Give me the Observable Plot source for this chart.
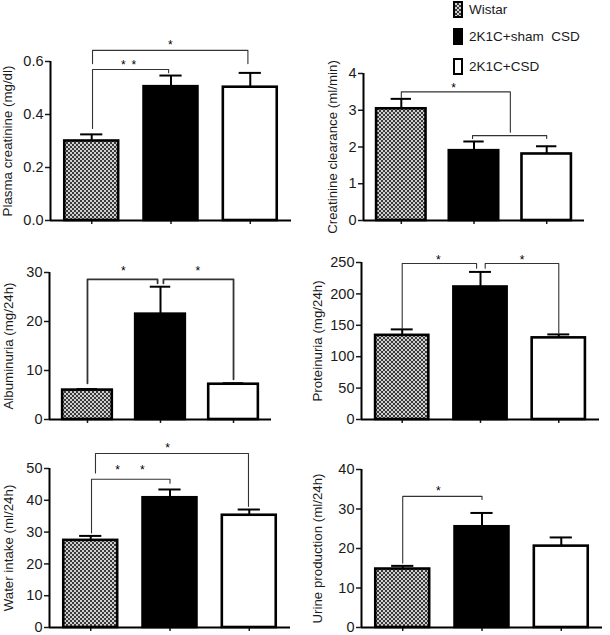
<!DOCTYPE html>
<html><head><meta charset="utf-8">
<script src="https://cdn.jsdelivr.net/npm/d3@7"></script>
<script src="https://cdn.jsdelivr.net/npm/@observablehq/plot@0.6"></script>
<style>
body{margin:0;background:#fff;font-family:"Liberation Sans",Arial,sans-serif;color:#1a1a1a;}
#root{position:relative;width:610px;height:635px;overflow:hidden;background:#fff;}
.panel{position:absolute;}
.leg{position:absolute;left:453px;display:flex;align-items:center;font-size:13.5px;}
.sw{box-sizing:border-box;border:2px solid #000;width:10px;height:17px;margin-right:6px;}
</style></head><body>
<svg width="0" height="0" style="position:absolute"><defs>
<pattern id="checker" width="4" height="4" patternUnits="userSpaceOnUse">
<rect width="4" height="4" fill="#cfcfcf"/><rect width="2" height="2" fill="#3a3a3a"/><rect x="2" y="2" width="2" height="2" fill="#3a3a3a"/>
</pattern></defs></svg>
<div id="root"></div>
<script>
// ---------- data ----------
const groups = ["Wistar", "2K1C+sham  CSD", "2K1C+CSD"];
const yTitles = ["Plasma creatinine (mg/dl)", "Creatinine clearance (ml/min)", "Albuminuria (mg/24h)",
                 "Proteinuria (mg/24h)", "Water intake (ml/24h)", "Urine production (ml/24h)"];

const plasmaCreatinine    = [0.30, 0.505, 0.503];
const plasmaCreatinineSem = [0.025, 0.042, 0.054];
const creatClearance      = [3.04, 1.90, 1.81];
const creatClearanceSem   = [0.27, 0.25, 0.21];
const albuminuria         = [6.0, 21.5, 7.2];
const albuminuriaSem      = [0.2, 5.6, 0.2];
const proteinuria         = [134, 211, 130];
const proteinuriaSem      = [9.5, 24, 5.5];
const waterIntake         = [27.4, 40.8, 35.3];
const waterIntakeSem      = [1.4, 2.6, 1.8];
const urineProduction     = [14.8, 25.5, 20.6];
const urineProductionSem  = [0.8, 3.5, 2.2];

const plasmaCreatinineTicks = [0, 0.2, 0.4, 0.6];
const creatClearanceTicks   = [0, 1, 2, 3, 4];
const albuminuriaTicks      = [0, 10, 20, 30];
const proteinuriaTicks      = [0, 50, 100, 150, 200, 250];
const waterIntakeTicks      = [0, 10, 20, 30, 40, 50];
const urineProductionTicks  = [0, 10, 20, 30, 40];

// significance brackets: [fromGroup, toGroup, level, leftLegEnd, rightLegEnd]
const plasmaCreatinineBrackets = [[1.01, 2.97, 0.642, 0.592, 0.592], [1.01, 1.97, 0.570, 0.347, 0.558]];
const creatClearanceBrackets   = [[1.0, 2.50, 3.50, 3.35, 2.40], [1.98, 3.0, 2.31, 2.23, 2.23]];
const albuminuriaBrackets      = [[1.0, 1.96, 28.6, 7.4, 27.8], [2.04, 3.0, 28.6, 27.8, 8.2]];
const proteinuriaBrackets      = [[1.0, 1.95, 248.4, 145, 241], [2.06, 3.0, 248.4, 241, 137]];
const waterIntakeBrackets      = [[1.06, 2.99, 54.7, 48.6, 38.1], [1.01, 2.0, 46.6, 29.7, 45.4]];
const urineProductionBrackets  = [[1.0, 2.0, 33.2, 16.3, 32.4]];

// asterisks: [x, y]
const plasmaCreatinineStars = [[1.99, 0.672], [1.40, 0.596], [1.53, 0.596]];
const creatClearanceStars   = [[1.72, 3.67]];
const albuminuriaStars      = [[1.49, 30.9], [2.51, 30.9]];
const proteinuriaStars      = [[1.46, 258], [2.53, 258]];
const waterIntakeStars      = [[1.97, 57.3], [1.34, 50.4], [1.65, 50.4]];
const urineProductionStars  = [[1.45, 35.3]];

// ---------- layout ----------
const panels = [
  {v: plasmaCreatinine, s: plasmaCreatinineSem, t: plasmaCreatinineTicks, b: plasmaCreatinineBrackets, st: plasmaCreatinineStars, fmt: d3.format(".1f"),
   left: 0, top: 0, h: 235, ml: 50, mr: 14, mt: 61, mb: 15, lo: 48, bw: 1.1},
  {v: creatClearance, s: creatClearanceSem, t: creatClearanceTicks, b: creatClearanceBrackets, st: creatClearanceStars, fmt: d3.format("d"),
   left: 305, top: 0, h: 235, ml: 58, mr: 26, mt: 73, mb: 15, lo: 36, bw: 1.1},
  {v: albuminuria, s: albuminuriaSem, t: albuminuriaTicks, b: albuminuriaBrackets, st: albuminuriaStars, fmt: d3.format("d"),
   left: 0, top: 235, h: 195, ml: 49, mr: 34, mt: 37, mb: 11, lo: 46, bw: 1.8},
  {v: proteinuria, s: proteinuriaSem, t: proteinuriaTicks, b: proteinuriaBrackets, st: proteinuriaStars, fmt: d3.format("d"),
   left: 305, top: 235, h: 195, ml: 56, mr: 11, mt: 27, mb: 11, lo: 49, bw: 1.1},
  {v: waterIntake, s: waterIntakeSem, t: waterIntakeTicks, b: waterIntakeBrackets, st: waterIntakeStars, fmt: d3.format("d"),
   left: 0, top: 430, h: 205, ml: 49, mr: 15, mt: 38, mb: 8, lo: 46, bw: 1.1},
  {v: urineProduction, s: urineProductionSem, t: urineProductionTicks, b: urineProductionBrackets, st: urineProductionStars, fmt: d3.format("d"),
   left: 305, top: 430, h: 205, ml: 56, mr: 8, mt: 39, mb: 8, lo: 49, bw: 1.1}
];

const xDom = [0.48, 3.52];
const half = 0.34, cap = 0.14;
const fills = ["url(#checker)", "#000", "#fff"];
const root = document.getElementById("root");

panels.forEach((p, k) => {
  const rows = groups.map((g, i) => ({g, i: i + 1, mean: p.v[i], sem: p.s[i]}));
  const ymax = p.t[p.t.length - 1];
  const bracketPts = p.b.flatMap((b, j) => [
    {id: j, x: b[0], y: b[3]}, {id: j, x: b[0], y: b[2]},
    {id: j, x: b[1], y: b[2]}, {id: j, x: b[1], y: b[4]}
  ]);
  const chart = Plot.plot({
    width: 305, height: p.h,
    marginLeft: p.ml, marginRight: p.mr, marginTop: p.mt, marginBottom: p.mb,
    style: {fontFamily: "Liberation Sans, Arial, sans-serif", background: "transparent", overflow: "visible", color: "#1a1a1a"},
    x: {domain: xDom, axis: null},
    y: {domain: [0, ymax], axis: null},
    color: {type: "ordinal", domain: groups, range: fills},
    marks: [
      Plot.axisY({ticks: p.t, tickSize: 5, tickPadding: 2, tickFormat: p.fmt, fontSize: 14.5, label: null, strokeWidth: 1.5}),
      Plot.axisX({ticks: [1, 2, 3], tickSize: 4, tickFormat: () => "", label: null, strokeWidth: 1.5}),
      Plot.text([yTitles[k]], {frameAnchor: "left", rotate: -90, dx: -p.lo, lineAnchor: "top", textAnchor: "middle", fontSize: 13.3}),
      Plot.ruleX(rows, {x: "i", y1: "mean", y2: d => d.mean + d.sem, stroke: "#000", strokeWidth: 2}),
      Plot.ruleY(rows, {y: d => d.mean + d.sem, x1: d => d.i - cap, x2: d => d.i + cap, stroke: "#000", strokeWidth: 2}),
      Plot.rect(rows, {x1: d => d.i - half, x2: d => d.i + half, y1: 0, y2: "mean", fill: "g", stroke: "#000", strokeWidth: 2.6}),
      Plot.ruleY([0], {x1: xDom[0], x2: xDom[1], stroke: "#000", strokeWidth: 2}),
      Plot.ruleX([xDom[0]], {y1: 0, y2: ymax, stroke: "#000", strokeWidth: 2}),
      Plot.line(bracketPts, {x: "x", y: "y", z: "id", stroke: "#333", strokeWidth: p.bw, curve: "linear"}),
      Plot.text(p.st, {x: d => d[0], y: d => d[1], text: () => "*", fontSize: 12, dy: 3, fill: "#000"})
    ]
  });
  const div = document.createElement("div");
  div.className = "panel";
  div.style.left = p.left + "px";
  div.style.top = p.top + "px";
  div.appendChild(chart);
  root.appendChild(div);
});

// ---------- legend ----------
const legendTops = [1, 28, 58];
const swatchBg = ["repeating-conic-gradient(#3a3a3a 0 25%, #cfcfcf 0 50%) 0 0/4px 4px", "#000", "#fff"];
groups.forEach((g, i) => {
  const item = document.createElement("div");
  item.className = "leg";
  item.style.top = legendTops[i] + "px";
  const sw = document.createElement("div");
  sw.className = "sw";
  sw.style.background = swatchBg[i];
  if (i === 2) sw.style.borderWidth = "2.5px";
  const tx = document.createElement("span");
  tx.textContent = g;
  tx.style.whiteSpace = "pre";
  item.appendChild(sw);
  item.appendChild(tx);
  root.appendChild(item);
});
</script>
</body></html>
